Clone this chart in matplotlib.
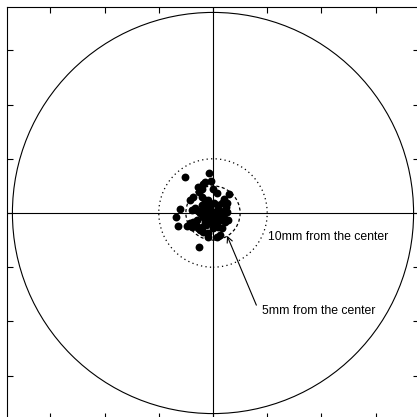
import matplotlib
matplotlib.use("Agg")
import matplotlib.pyplot as plt
from matplotlib.patches import Circle

plt.rcParams['font.family'] = ['Liberation Sans', 'DejaVu Sans']

# impact positions in mm relative to the center
x_mm = [-5.19, -0.68, -0.37, -1.48, -1.79, -2.10, -2.53, 0.06, -2.72, 0.68,
        3.02, 2.04, 1.60, 0.99, -0.86, -1.48, -2.10, -3.64, -4.26, -3.33,
        -3.95, -6.11, -6.85, -6.42, -4.75, -3.95, -3.64, -3.02, -2.41, -1.79,
        -1.17, -0.56, 0.37, 0.99, 1.60, 1.79, 2.65, 2.84, 2.22, 1.30,
        0.68, -0.56, -1.48, -2.10, -2.41, -1.79, -0.86, -0.86, 0.68, 1.60,
        1.30, -2.53, -1.17, -0.25, -1.79, 0.06, -2.72, -3.15, -4.26, 2.53,
        2.41, -1.5, -1.0, -0.8, -1.3, -0.3, 0.5, -2.0, -0.5, 0.0,
        -2.7, 1.0, 0.2, -0.2, -1.2, 1.0, 2.0, 1.3]
y_mm = [6.73, 7.47, 5.99, 5.80, 5.31, 4.38, 3.95, 4.38, 4.75, 3.64,
        3.52, 2.53, 1.79, 1.48, 2.41, 2.41, 3.02, 3.02, 2.41, 0.86,
        0.56, 0.68, -0.80, -2.41, -2.41, -2.53, -1.60, -1.30, -0.06, 0.86,
        0.56, 1.17, 0.25, -0.37, 0.25, -0.68, 0.25, -1.30, -1.60, -1.30,
        -1.91, -1.60, -1.60, -2.53, -3.15, -3.46, -3.77, -4.51, -4.51, -2.84,
        -4.07, -6.23, -0.68, -0.37, -0.68, -2.84, -2.84, -2.22, -1.91, 1.79,
        1.17, 0.0, -0.2, 1.5, 1.8, -1.0, -0.8, 1.5, 0.5, -0.2,
        0.3, 0.8, 1.9, -1.8, -2.3, -2.5, -0.2, 0.3]

outer_radius = 37
dotted_radius = 10
dashed_radius = 5
ticks = [-30, -20, -10, 0, 10, 20, 30]
label_10 = "10mm from the center"
label_5 = "5mm from the center"

fig = plt.figure(figsize=(4.17, 4.17), dpi=100)
ax = fig.add_axes([7/417, -2/417, 412/417, 412/417])
ax.set_xlim(-38, 38)
ax.set_ylim(-38, 38)
ax.set_aspect('equal')

ax.axhline(0, color='black', lw=0.8, zorder=1)
ax.axvline(0, color='black', lw=0.8, zorder=1)

ax.add_patch(Circle((0, 0), outer_radius, fill=False, color='black', lw=0.8))
ax.add_patch(Circle((0, 0), dotted_radius, fill=False, color='black', lw=0.9,
                    linestyle=(0, (1, 2.6))))
ax.add_patch(Circle((0, 0), dashed_radius, fill=False, color='black', lw=0.9,
                    linestyle=(0, (2.5, 2))))

ax.scatter(x_mm, y_mm, s=32, color='black', zorder=3, linewidths=0)

ax.text(10.1, -4.4, label_10, fontsize=8.8, va='center', ha='left')
ax.text(9.0, -18.0, label_5, fontsize=8.8, va='center', ha='left')
ax.annotate('', xy=(2.6, -4.2), xytext=(8.0, -17.0),
            arrowprops=dict(arrowstyle='->', color='black', lw=0.8,
                            shrinkA=0, shrinkB=0, mutation_scale=10))

ax.set_xticks(ticks)
ax.set_yticks(ticks)
ax.tick_params(direction='in', length=4, width=0.8, top=True, right=True,
               labelbottom=False, labelleft=False)
for s in ax.spines.values():
    s.set_linewidth(0.8)

fig.savefig('out.png', dpi=100)
